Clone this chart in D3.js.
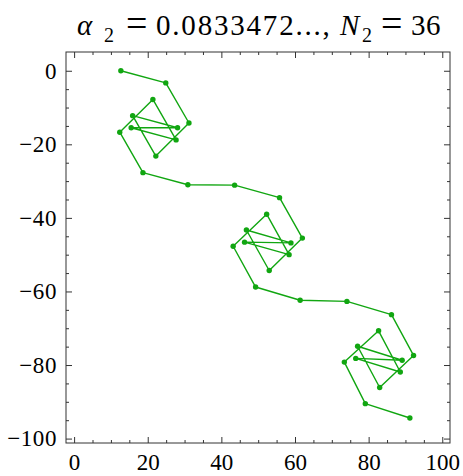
<!DOCTYPE html>
<html>
<head>
<meta charset="utf-8">
<script src="https://cdn.jsdelivr.net/npm/d3@7"></script>
<style>
  html, body { margin: 0; padding: 0; background: #fff; }
  svg { display: block; }
  text { font-family: "Liberation Serif", "DejaVu Serif", serif; fill: #000; }
</style>
</head>
<body>
<svg id="chart" width="463" height="476"></svg>
<script>
// Curlicue walk: positions of the 36 vertices
const xs = [12.7, 24.9, 31.2, 22.2, 15.9, 28.1, 15.5, 27.7, 21.4, 12.4, 18.7, 30.9,
            43.6, 55.8, 62.0, 53.0, 46.8, 58.9, 46.3, 58.4, 52.3, 43.2, 49.3, 61.4,
            74.1, 86.2, 92.2, 83.0, 77.0, 89.1, 76.5, 88.6, 82.7, 73.4, 79.1, 91.2];
const ys = [0.0, -3.3, -14.2, -23.2, -12.2, -15.5, -15.5, -18.8, -7.8, -16.7, -27.7, -31.0,
            -31.1, -34.5, -45.5, -54.3, -43.3, -46.8, -46.6, -50.0, -39.0, -47.7, -58.8, -62.4,
            -62.7, -66.3, -77.4, -86.1, -74.9, -78.7, -78.2, -81.9, -70.7, -79.2, -90.5, -94.4];

// Axis ticks
const xTicks = [0, 20, 40, 60, 80, 100];
const yTicks = [0, -20, -40, -60, -80, -100];
const xMinor = [5, 10, 15, 25, 30, 35, 45, 50, 55, 65, 70, 75, 85, 90, 95];
const yMinor = [-5, -10, -15, -25, -30, -35, -45, -50, -55, -65, -70, -75, -85, -90, -95];

const points = xs.map((x, i) => ({ x, y: ys[i] }));

const plotLeft = 66, plotRight = 450, plotTop = 52, plotBottom = 443;
const green = "#11a611";
const frameColor = "#333";

const svg = d3.select("#chart");

const x = d3.scaleLinear().domain([-2.2, 102.1]).range([plotLeft, plotRight]);
const y = d3.scaleLinear().domain([5.1, -101.2]).range([plotTop, plotBottom]);

const fmt = d => d3.format("d")(d);

function styleAxis(g) {
  g.select(".domain").remove();
  g.selectAll(".tick line").attr("stroke", frameColor).attr("stroke-width", 1);
  g.selectAll(".tick text")
    .style("font-family", '"Liberation Serif", serif')
    .style("font-size", "23px")
    .attr("fill", "#000");
}

// Bottom axis (labelled) with major and minor inward ticks
svg.append("g").attr("transform", `translate(0,${plotBottom})`)
  .call(d3.axisBottom(x).tickValues(xTicks).tickFormat(fmt).tickSize(-6).tickPadding(11))
  .call(styleAxis);
svg.append("g").attr("transform", `translate(0,${plotBottom})`)
  .call(d3.axisBottom(x).tickValues(xMinor).tickFormat("").tickSize(-3))
  .call(styleAxis);

// Top axis (unlabelled)
svg.append("g").attr("transform", `translate(0,${plotTop})`)
  .call(d3.axisTop(x).tickValues(xTicks).tickFormat("").tickSize(-6))
  .call(styleAxis);
svg.append("g").attr("transform", `translate(0,${plotTop})`)
  .call(d3.axisTop(x).tickValues(xMinor).tickFormat("").tickSize(-3))
  .call(styleAxis);

// Left axis (labelled)
svg.append("g").attr("transform", `translate(${plotLeft},0)`)
  .call(d3.axisLeft(y).tickValues(yTicks).tickFormat(fmt).tickSize(-6).tickPadding(9))
  .call(styleAxis)
  .call(g => g.selectAll(".tick text").attr("letter-spacing", "0.6px"));
svg.append("g").attr("transform", `translate(${plotLeft},0)`)
  .call(d3.axisLeft(y).tickValues(yMinor).tickFormat("").tickSize(-3))
  .call(styleAxis);

// Right axis (unlabelled)
svg.append("g").attr("transform", `translate(${plotRight},0)`)
  .call(d3.axisRight(y).tickValues(yTicks).tickFormat("").tickSize(-6))
  .call(styleAxis);
svg.append("g").attr("transform", `translate(${plotRight},0)`)
  .call(d3.axisRight(y).tickValues(yMinor).tickFormat("").tickSize(-3))
  .call(styleAxis);

// Frame
svg.append("rect")
  .attr("x", plotLeft).attr("y", plotTop)
  .attr("width", plotRight - plotLeft).attr("height", plotBottom - plotTop)
  .attr("fill", "none").attr("stroke", frameColor).attr("stroke-width", 1);

// Walk
const line = d3.line().x(d => x(d.x)).y(d => y(d.y));
svg.append("path")
  .datum(points)
  .attr("d", line)
  .attr("fill", "none")
  .attr("stroke", green)
  .attr("stroke-width", 1.4)
  .attr("stroke-linejoin", "round");

svg.append("g").selectAll("circle")
  .data(points)
  .join("circle")
  .attr("cx", d => x(d.x))
  .attr("cy", d => y(d.y))
  .attr("r", 2.7)
  .attr("fill", green);

// Title: alpha_2 = 0.0833472...,  N_2 = 36
const tg = svg.append("g").attr("class", "title");
const baseY = 35;
function piece(txt, px, opts = {}) {
  return tg.append("text")
    .attr("x", px)
    .attr("y", baseY + (opts.dy || 0))
    .style("font-size", (opts.size || 29) + "px")
    .style("font-style", opts.italic ? "italic" : "normal")
    .attr("letter-spacing", opts.spacing || 0)
    .text(txt);
}
piece("α", 77, { italic: true });
piece("2", 104, { size: 20, dy: 7 });
piece("=", 126, { size: 38, dy: 1 });
piece("0.0833472...,", 156, { spacing: 1.8 });
piece("N", 340, { italic: true });
piece("2", 362, { size: 20, dy: 7 });
piece("=", 381, { size: 38, dy: 1 });
piece("36", 411, { spacing: 0.5 });
</script>
</body>
</html>
